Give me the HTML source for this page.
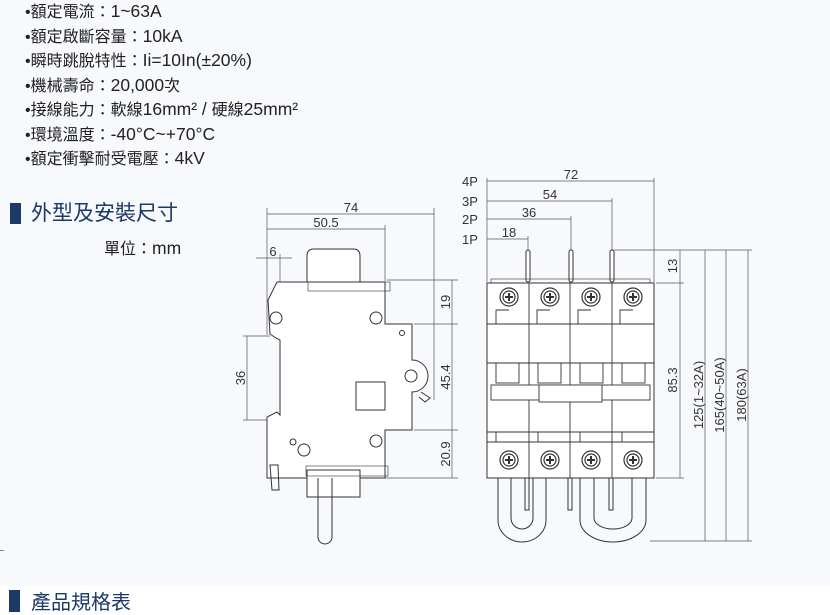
<!DOCTYPE html>
<html><head><meta charset="utf-8"><style>
html,body{margin:0;padding:0;}
body{width:830px;height:614px;position:relative;overflow:hidden;background:#fff;font-family:"Liberation Sans","Noto Sans CJK TC",sans-serif;}
.bg{position:absolute;left:0;top:0;width:830px;height:586px;background:#f7f9fc;}
.li{position:absolute;left:25px;font-size:16px;color:#222;line-height:20px;white-space:nowrap;}
.li b{font-weight:normal;font-size:17.5px;}
.h{position:absolute;font-size:21px;color:#1b3a66;line-height:24px;white-space:nowrap;font-family:"Noto Sans CJK TC",sans-serif;}
.bar{position:absolute;background:#1b3a66;width:11px;height:21px;}
svg{position:absolute;left:0;top:0;}
</style></head><body>
<div class="bg"></div>
<div class="li" style="top:1px">•額定電流：<b>1~63A</b></div>
<div class="li" style="top:26px">•額定啟斷容量：<b>10kA</b></div>
<div class="li" style="top:50px">•瞬時跳脫特性：<b>Ii=10In(±20%)</b></div>
<div class="li" style="top:75px">•機械壽命：<b>20,000</b>次</div>
<div class="li" style="top:99px">•接線能力：軟線<b>16mm² / </b>硬線<b>25mm²</b></div>
<div class="li" style="top:124px">•環境溫度：<b>-40°C~+70°C</b></div>
<div class="li" style="top:148px">•額定衝擊耐受電壓：<b>4kV</b></div>
<div class="bar" style="left:10px;top:203px"></div>
<div class="h" style="left:31px;top:200px">外型及安裝尺寸</div>
<div class="li" style="left:104px;top:238px">單位：<b>mm</b></div>
<div style="position:absolute;left:0;top:550px;width:4px;height:1px;background:#4a90c8"></div>
<div class="bar" style="left:9px;top:590px;height:22px"></div>
<div class="h" style="left:31px;top:589px;font-size:20px">產品規格表</div>

<svg width="830" height="614" viewBox="0 0 830 614" font-family="Liberation Sans, sans-serif" font-size="12" fill="none" stroke="#333" stroke-width="1">
<g stroke="#555" stroke-width="0.7">
<line x1="267" y1="208" x2="267" y2="335"/>
<line x1="434" y1="208" x2="434" y2="400"/>
<line x1="267" y1="214" x2="434" y2="214"/>
<line x1="267" y1="229" x2="385" y2="229"/>
<line x1="385" y1="225" x2="385" y2="281"/>
<line x1="256" y1="258" x2="292" y2="258"/>
<line x1="280" y1="254" x2="280" y2="282"/>
<line x1="247" y1="336" x2="247" y2="420"/>
<line x1="243" y1="336" x2="270" y2="336"/>
<line x1="243" y1="420" x2="275" y2="420"/>
<line x1="452" y1="280" x2="452" y2="478"/>
<line x1="387" y1="280" x2="458" y2="280"/>
<line x1="414" y1="324" x2="458" y2="324"/>
<line x1="414" y1="430" x2="458" y2="430"/>
<line x1="385" y1="478" x2="458" y2="478"/>
</g>
<g fill="#333" font-size="13" stroke="none">
<text x="351" y="212" text-anchor="middle">74</text>
<text x="326" y="227" text-anchor="middle">50.5</text>
<text x="273" y="256" text-anchor="middle">6</text>
<text transform="translate(245,378) rotate(-90)" text-anchor="middle">36</text>
<text transform="translate(450,302) rotate(-90)" text-anchor="middle">19</text>
<text transform="translate(450,377) rotate(-90)" text-anchor="middle">45.4</text>
<text transform="translate(450,454) rotate(-90)" text-anchor="middle">20.9</text>
</g>
<path d="M307,282 L307,256 Q307,249 314,249 L353,249 Q360,249 360,256 L360,282" fill="#fff"/>
<path d="M277,282 L385,282 L385,324 L412,324 L412,360 A16,16 0 0 1 412,392 L412,430 L385,430 L385,478 L267,478 L267,417 L277,412 L280,415 L280,340 L276,338 L270,334 L268,300 Z" fill="#fff"/>
<circle cx="276" cy="318" r="6"/>
<circle cx="376" cy="318" r="6"/>
<circle cx="376" cy="441" r="6"/>
<circle cx="304" cy="450" r="6"/>
<circle cx="293" cy="442" r="3"/>
<circle cx="402" cy="333" r="2.5"/>
<circle cx="411" cy="376" r="6"/>
<path d="M421,392 L430,398 L425,402 L419,397"/>
<rect x="356" y="382" width="29" height="28"/>
<rect x="308" y="282" width="82" height="9" fill="none" stroke-width="0.6"/>
<path d="M270,465 L278,465 L279,490 L272,490 Z"/>
<path d="M307,470 L360,470 L360,497 L307,497 Z" fill="#fff"/>
<path d="M318,478 L318,537 A7,7 0 0 0 332,537 L332,478"/>
<rect x="306" y="466" width="82" height="10" stroke-width="0.6"/>

<g stroke="#555" stroke-width="0.7">
<line x1="487" y1="178" x2="487" y2="282"/>
<line x1="487" y1="181" x2="654" y2="181"/>
<line x1="654" y1="178" x2="654" y2="282"/>
<line x1="487" y1="201" x2="612" y2="201"/>
<line x1="612" y1="198" x2="612" y2="250"/>
<line x1="487" y1="219" x2="571" y2="219"/>
<line x1="571" y1="216" x2="571" y2="250"/>
<line x1="487" y1="239" x2="528" y2="239"/>
<line x1="528" y1="236" x2="528" y2="250"/>
<line x1="614" y1="250" x2="752" y2="250"/>
<line x1="656" y1="283" x2="684" y2="283"/>
<line x1="656" y1="478" x2="684" y2="478"/>
<line x1="650" y1="541" x2="752" y2="541"/>
<line x1="680" y1="250" x2="680" y2="478"/>
<line x1="705" y1="250" x2="705" y2="541"/>
<line x1="726" y1="250" x2="726" y2="541"/>
<line x1="748" y1="250" x2="748" y2="541"/>
</g>
<g fill="#333" stroke="none" font-size="13">
<text x="462" y="186">4P</text>
<text x="462" y="206">3P</text>
<text x="462" y="224">2P</text>
<text x="462" y="244">1P</text>
<text x="571" y="179" text-anchor="middle">72</text>
<text x="550" y="199" text-anchor="middle">54</text>
<text x="529" y="217" text-anchor="middle">36</text>
<text x="509" y="237" text-anchor="middle">18</text>
<text transform="translate(677,266) rotate(-90)" text-anchor="middle">13</text>
<text transform="translate(677,380) rotate(-90)" text-anchor="middle">85.3</text>
<text transform="translate(703,395) rotate(-90)" text-anchor="middle">125(1~32A)</text>
<text transform="translate(724,395) rotate(-90)" text-anchor="middle">165(40~50A)</text>
<text transform="translate(746,395) rotate(-90)" text-anchor="middle">180(63A)</text>
<text x="502" y="323" font-size="11">+</text>
<text x="627" y="321" font-size="11">-</text>
</g>
<g fill="#fff">
<rect x="526" y="250" width="4" height="32" rx="2"/>
<rect x="569" y="250" width="4" height="32" rx="2"/>
<rect x="610" y="250" width="4" height="32" rx="2"/>
</g>
<path d="M498,478 L498,520 A24,22 0 0 0 546,520 L546,478 M511,478 L511,518 A11,11 0 0 0 533,518 L533,478"/>
<path d="M580,478 L580,520 A33,22 0 0 0 646,520 L646,478 M594,478 L594,518 A19,11 0 0 0 632,518 L632,478"/>
<path d="M525,478 L525,510 L529,510 L529,478 M568,478 L568,510 L572,510 L572,478 M609,478 L609,510 L613,510 L613,478"/>
<rect x="487" y="283" width="167" height="195" fill="#fff"/>
<rect x="491" y="279" width="159" height="4" stroke-width="0.6"/>
<g stroke-width="0.9">
<line x1="529" y1="283" x2="529" y2="478"/>
<line x1="570" y1="283" x2="570" y2="478"/>
<line x1="612" y1="283" x2="612" y2="478"/>
<line x1="487" y1="324" x2="654" y2="324"/>
<line x1="487" y1="363" x2="654" y2="363"/>
<line x1="487" y1="432" x2="654" y2="432"/>
<line x1="487" y1="442" x2="654" y2="442"/>
<path d="M496,324 L496,310 L509,310 M537,324 L537,310 L550,310 M578,324 L578,310 L591,310 M620,324 L620,310 L633,310"/>
<rect x="496" y="363" width="23" height="20"/>
<rect x="538" y="363" width="23" height="20"/>
<rect x="580" y="363" width="23" height="20"/>
<rect x="622" y="363" width="23" height="20"/>
<rect x="491" y="385" width="159" height="15" fill="#fff"/>
<rect x="539" y="385" width="63" height="17" fill="#fff"/>
<path d="M496,432 L496,442 M538,432 L538,442 M580,432 L580,442 M622,432 L622,442"/>
</g>
<g stroke-width="1.2">
<circle cx="509" cy="297" r="9" fill="#fff"/><circle cx="509" cy="297" r="6"/>
<circle cx="550" cy="297" r="9" fill="#fff"/><circle cx="550" cy="297" r="6"/>
<circle cx="591" cy="297" r="9" fill="#fff"/><circle cx="591" cy="297" r="6"/>
<circle cx="633" cy="297" r="9" fill="#fff"/><circle cx="633" cy="297" r="6"/>
<circle cx="509" cy="460" r="9" fill="#fff"/><circle cx="509" cy="460" r="6"/>
<circle cx="550" cy="460" r="9" fill="#fff"/><circle cx="550" cy="460" r="6"/>
<circle cx="591" cy="460" r="9" fill="#fff"/><circle cx="591" cy="460" r="6"/>
<circle cx="633" cy="460" r="9" fill="#fff"/><circle cx="633" cy="460" r="6"/>
</g>
<g stroke-width="2">
<path d="M505,297h8M509,293v8M546,297h8M550,293v8M587,297h8M591,293v8M629,297h8M633,293v8"/>
<path d="M505,460h8M509,456v8M546,460h8M550,456v8M587,460h8M591,456v8M629,460h8M633,456v8"/>
</g>
</svg>
</body></html>
